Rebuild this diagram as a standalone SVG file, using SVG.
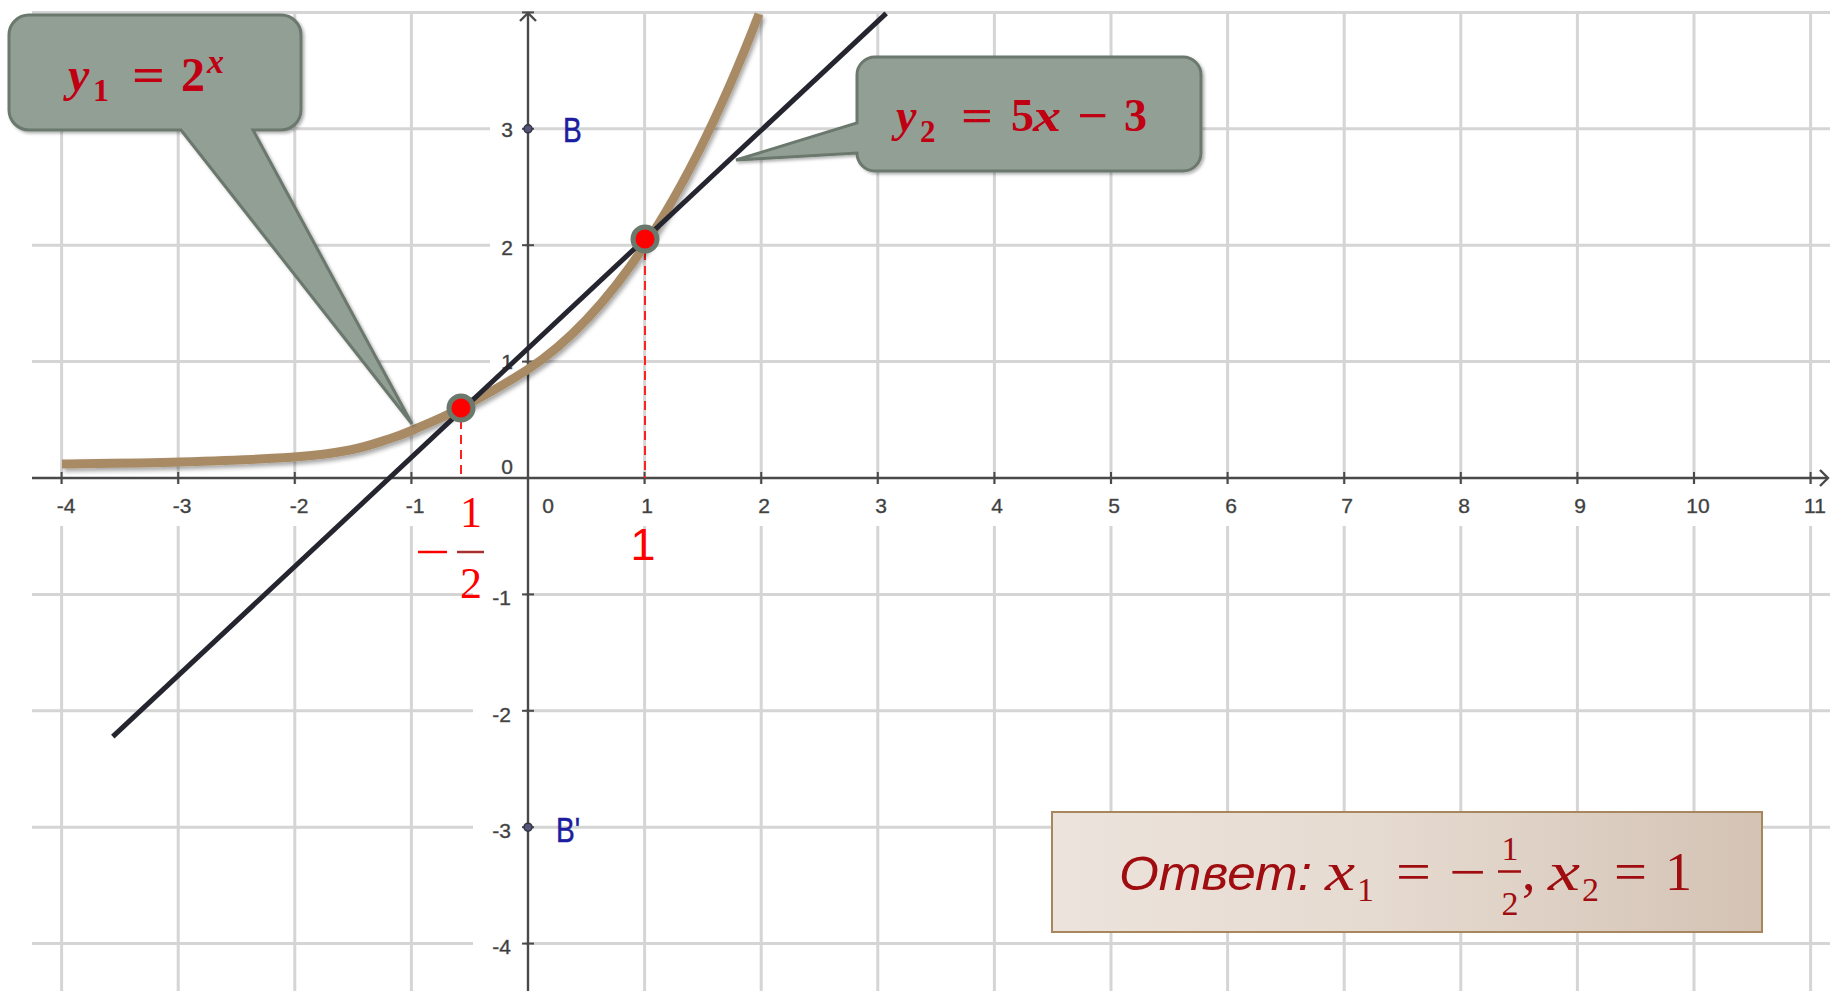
<svg xmlns="http://www.w3.org/2000/svg" width="1830" height="991" viewBox="0 0 1830 991">
<style>
.grid{stroke:#d5d5d5;stroke-width:3;fill:none}
.axis{stroke:#4a4a4a;stroke-width:2.4;fill:none}
.tick{stroke:#4a4a4a;stroke-width:2}
.lbl{font-family:"Liberation Sans",Arial,sans-serif;font-size:21px;fill:#3a3a3a;stroke:#5a5a5a;stroke-width:0.4}
.bg{fill:#ffffff}
.pt{fill:#ff0000;stroke:#6b786c;stroke-width:5}
.dash{stroke:#ff2020;stroke-width:2;stroke-dasharray:9 6;fill:none}
.call{fill:#929f94;stroke:#6b786d;stroke-width:3}
.ct{font-family:"Liberation Serif","Times New Roman",serif;font-weight:bold;fill:#c00012}
.it{font-style:italic}
.ans{font-family:"Liberation Serif","Times New Roman",serif;fill:#a00d10}
.red{font-family:"Liberation Sans",Arial,sans-serif;fill:#ff0000}
.redm{font-family:"Liberation Serif","Times New Roman",serif;fill:#ff0000}
.bl{font-family:"Liberation Sans",Arial,sans-serif;font-size:36px;fill:#1c1ca0;stroke:#1c1ca0;stroke-width:0.5}
</style>
<defs>
<filter id="sh" x="-10%" y="-10%" width="125%" height="125%">
<feDropShadow dx="2" dy="3" stdDeviation="2" flood-color="#000" flood-opacity="0.35"/>
</filter>
<filter id="sh2" x="-10%" y="-10%" width="125%" height="125%">
<feDropShadow dx="2" dy="2" stdDeviation="1.5" flood-color="#000" flood-opacity="0.3"/>
</filter>
<linearGradient id="ansg" x1="0" y1="0" x2="1" y2="0">
<stop offset="0" stop-color="#ece3dc"/>
<stop offset="0.45" stop-color="#e6dbd1"/>
<stop offset="1" stop-color="#d4c3b5"/>
</linearGradient>
</defs>
<rect width="1830" height="991" fill="#ffffff"/>

<g id="grid">
<line class="grid" x1="61.6" y1="12" x2="61.6" y2="991"/>
<line class="grid" x1="178.2" y1="12" x2="178.2" y2="991"/>
<line class="grid" x1="294.8" y1="12" x2="294.8" y2="991"/>
<line class="grid" x1="411.4" y1="12" x2="411.4" y2="991"/>
<line class="grid" x1="644.6" y1="12" x2="644.6" y2="991"/>
<line class="grid" x1="761.2" y1="12" x2="761.2" y2="991"/>
<line class="grid" x1="877.8" y1="12" x2="877.8" y2="991"/>
<line class="grid" x1="994.4" y1="12" x2="994.4" y2="991"/>
<line class="grid" x1="1111" y1="12" x2="1111" y2="991"/>
<line class="grid" x1="1227.6" y1="12" x2="1227.6" y2="991"/>
<line class="grid" x1="1344.2" y1="12" x2="1344.2" y2="991"/>
<line class="grid" x1="1460.8" y1="12" x2="1460.8" y2="991"/>
<line class="grid" x1="1577.4" y1="12" x2="1577.4" y2="991"/>
<line class="grid" x1="1694" y1="12" x2="1694" y2="991"/>
<line class="grid" x1="1810.6" y1="12" x2="1810.6" y2="991"/>
<line class="grid" x1="32" y1="12.4" x2="1830" y2="12.4"/>
<line class="grid" x1="32" y1="128.8" x2="1830" y2="128.8"/>
<line class="grid" x1="32" y1="245.2" x2="1830" y2="245.2"/>
<line class="grid" x1="32" y1="361.6" x2="1830" y2="361.6"/>
<line class="grid" x1="32" y1="594.4" x2="1830" y2="594.4"/>
<line class="grid" x1="32" y1="710.8" x2="1830" y2="710.8"/>
<line class="grid" x1="32" y1="827.2" x2="1830" y2="827.2"/>
<line class="grid" x1="32" y1="943.6" x2="1830" y2="943.6"/>
</g>

<g id="label-backgrounds">
<rect class="bg" x="46" y="484" width="40" height="42"/>
<rect class="bg" x="163" y="484" width="40" height="42"/>
<rect class="bg" x="279" y="484" width="40" height="42"/>
<rect class="bg" x="396" y="484" width="38" height="42"/>
<rect class="bg" x="636" y="484" width="22" height="42"/>
<rect class="bg" x="753" y="484" width="22" height="42"/>
<rect class="bg" x="870" y="484" width="22" height="42"/>
<rect class="bg" x="986" y="484" width="22" height="42"/>
<rect class="bg" x="1103" y="484" width="22" height="42"/>
<rect class="bg" x="1220" y="484" width="22" height="42"/>
<rect class="bg" x="1336" y="484" width="22" height="42"/>
<rect class="bg" x="1453" y="484" width="22" height="42"/>
<rect class="bg" x="1569" y="484" width="22" height="42"/>
<rect class="bg" x="1682" y="484" width="32" height="42"/>
<rect class="bg" x="1799" y="484" width="31" height="42"/>
<rect class="bg" x="490" y="117" width="35" height="24"/>
<rect class="bg" x="490" y="233" width="35" height="24"/>
<rect class="bg" x="490" y="350" width="35" height="24"/>
<rect class="bg" x="473" y="583" width="52" height="24"/>
<rect class="bg" x="473" y="699" width="52" height="24"/>
<rect class="bg" x="473" y="815" width="52" height="24"/>
<rect class="bg" x="473" y="932" width="52" height="24"/>
</g>

<g id="axes">
<line class="axis" x1="32" y1="478" x2="1828" y2="478"/>
<path class="axis" d="M1820,470 L1828,478 L1820,486"/>
<line class="axis" x1="528" y1="991" x2="528" y2="13"/>
<path class="axis" d="M520,21 L528,13 L536,21"/>
<g id="ticks">
<line class="tick" x1="61.6" y1="472" x2="61.6" y2="484"/>
<line class="tick" x1="178.2" y1="472" x2="178.2" y2="484"/>
<line class="tick" x1="294.8" y1="472" x2="294.8" y2="484"/>
<line class="tick" x1="411.4" y1="472" x2="411.4" y2="484"/>
<line class="tick" x1="644.6" y1="472" x2="644.6" y2="484"/>
<line class="tick" x1="761.2" y1="472" x2="761.2" y2="484"/>
<line class="tick" x1="877.8" y1="472" x2="877.8" y2="484"/>
<line class="tick" x1="994.4" y1="472" x2="994.4" y2="484"/>
<line class="tick" x1="1111" y1="472" x2="1111" y2="484"/>
<line class="tick" x1="1227.6" y1="472" x2="1227.6" y2="484"/>
<line class="tick" x1="1344.2" y1="472" x2="1344.2" y2="484"/>
<line class="tick" x1="1460.8" y1="472" x2="1460.8" y2="484"/>
<line class="tick" x1="1577.4" y1="472" x2="1577.4" y2="484"/>
<line class="tick" x1="1694" y1="472" x2="1694" y2="484"/>
<line class="tick" x1="1810.6" y1="472" x2="1810.6" y2="484"/>
<line class="tick" x1="522" y1="12.4" x2="534" y2="12.4"/>
<line class="tick" x1="522" y1="128.8" x2="534" y2="128.8"/>
<line class="tick" x1="522" y1="245.2" x2="534" y2="245.2"/>
<line class="tick" x1="522" y1="361.6" x2="534" y2="361.6"/>
<line class="tick" x1="522" y1="594.4" x2="534" y2="594.4"/>
<line class="tick" x1="522" y1="710.8" x2="534" y2="710.8"/>
<line class="tick" x1="522" y1="827.2" x2="534" y2="827.2"/>
<line class="tick" x1="522" y1="943.6" x2="534" y2="943.6"/>
</g>
</g>

<g id="axis-labels" class="lbl">
<text x="66" y="513" text-anchor="middle">-4</text>
<text x="182" y="513" text-anchor="middle">-3</text>
<text x="299" y="513" text-anchor="middle">-2</text>
<text x="415" y="513" text-anchor="middle">-1</text>
<text x="548" y="513" text-anchor="middle">0</text>
<text x="647" y="513" text-anchor="middle">1</text>
<text x="764" y="513" text-anchor="middle">2</text>
<text x="881" y="513" text-anchor="middle">3</text>
<text x="997" y="513" text-anchor="middle">4</text>
<text x="1114" y="513" text-anchor="middle">5</text>
<text x="1231" y="513" text-anchor="middle">6</text>
<text x="1347" y="513" text-anchor="middle">7</text>
<text x="1464" y="513" text-anchor="middle">8</text>
<text x="1580" y="513" text-anchor="middle">9</text>
<text x="1698" y="513" text-anchor="middle">10</text>
<text x="1815" y="513" text-anchor="middle">11</text>
<text x="513" y="137" text-anchor="end">3</text>
<text x="513" y="255" text-anchor="end">2</text>
<text x="513" y="369" text-anchor="end">1</text>
<text x="513" y="474" text-anchor="end">0</text>
<text x="511" y="605" text-anchor="end">-1</text>
<text x="511" y="722" text-anchor="end">-2</text>
<text x="511" y="838" text-anchor="end">-3</text>
<text x="511" y="954" text-anchor="end">-4</text>
</g>

<g id="point-B">
<circle cx="528" cy="128.8" r="4" fill="#55557a" stroke="#333344" stroke-width="1.5"/>
<text class="bl" transform="translate(563,142) scale(0.78,1)">B</text>
</g>
<g id="point-B-prime">
<circle cx="528" cy="827.2" r="4" fill="#55557a" stroke="#333344" stroke-width="1.5"/>
<text class="bl" transform="translate(556,842) scale(0.78,1)">B'</text>
</g>

<g id="connectors">
<line class="dash" x1="461" y1="420" x2="461" y2="478"/>
<line class="dash" x1="645" y1="251" x2="645" y2="478"/>
<path id="curve-y1" d="M62,464 C81.7,463.7 141.3,463.2 180,462 C218.7,460.8 265.7,459 294,457 C322.3,455 334.2,453 350,450 C365.8,447 378.5,442.3 389,439 C399.5,435.7 401,435.2 413,430 C425,424.8 442,418 461,408 C480,398 502,386 527,370 C627,305 704,157 759,14" fill="none" stroke="#a88b65" stroke-width="9" filter="url(#sh)"/>
<line id="line-y2" x1="112.8" y1="736.7" x2="886.2" y2="13.3" stroke="#25252f" stroke-width="5"/>
</g>

<g id="callout-y1">
<path class="call" filter="url(#sh2)" d="M29,15 H281 A20,20 0 0 1 301,35 V110 A20,20 0 0 1 281,130 H253 L412,424 L181,130 H29 A20,20 0 0 1 9,110 V35 A20,20 0 0 1 29,15 Z"/>
<g class="ct">
<text class="it" x="68" y="91" font-size="48">y</text>
<text x="93" y="101" font-size="32">1</text>
<text x="132" y="91" font-size="48" textLength="33" lengthAdjust="spacingAndGlyphs">=</text>
<text x="181" y="91" font-size="48">2</text>
<text class="it" x="207" y="73" font-size="34">x</text>
</g>
</g>

<g id="callout-y2">
<path class="call" filter="url(#sh2)" d="M875,57 H1183 A18,18 0 0 1 1201,75 V153 A18,18 0 0 1 1183,171 H875 A18,18 0 0 1 857,153 L736,160 L857,123 V75 A18,18 0 0 1 875,57 Z"/>
<g class="ct">
<text class="it" x="896" y="131" font-size="46">y</text>
<text x="920" y="142" font-size="31">2</text>
<text x="961" y="131" font-size="46" textLength="32" lengthAdjust="spacingAndGlyphs">=</text>
<text x="1011" y="131" font-size="46">5</text>
<text class="it" x="1033" y="131" font-size="46" textLength="28" lengthAdjust="spacingAndGlyphs">x</text>
<text x="1077" y="131" font-size="46" textLength="31" lengthAdjust="spacingAndGlyphs">−</text>
<text x="1124" y="131" font-size="46">3</text>
</g>
</g>

<g id="points">
<circle class="pt" cx="461" cy="408" r="12"/>
<circle class="pt" cx="645" cy="239" r="12"/>
</g>

<g id="root-labels">
<line x1="418" y1="552" x2="447" y2="552" stroke="#ff0000" stroke-width="2.5"/>
<line x1="457" y1="552" x2="484" y2="552" stroke="#a83030" stroke-width="2.5"/>
<text class="redm" x="471" y="527" font-size="44" text-anchor="middle">1</text>
<text class="redm" x="471" y="598" font-size="44" text-anchor="middle">2</text>
<text class="red" x="643" y="560" font-size="45" text-anchor="middle">1</text>
</g>

<g id="answer">
<rect x="1052" y="812" width="710" height="120" fill="url(#ansg)" stroke="#a8875f" stroke-width="2"/>
<text x="1119" y="890" font-family="Liberation Sans, Arial, sans-serif" font-style="italic" font-size="48" fill="#a00d10" textLength="193" lengthAdjust="spacingAndGlyphs">Ответ:</text>
<g class="ans">
<text class="it" x="1325" y="890" font-size="54" textLength="30" lengthAdjust="spacingAndGlyphs">x</text>
<text x="1357" y="901" font-size="34">1</text>
<text x="1396" y="890" font-size="54" textLength="35" lengthAdjust="spacingAndGlyphs">=</text>
<text x="1449" y="890" font-size="54" textLength="37" lengthAdjust="spacingAndGlyphs">−</text>
<text x="1510" y="860" font-size="34" text-anchor="middle">1</text>
<text x="1510" y="915" font-size="34" text-anchor="middle">2</text>
<text x="1522" y="890" font-size="54">,</text>
<text class="it" x="1548" y="890" font-size="54" textLength="32" lengthAdjust="spacingAndGlyphs">x</text>
<text x="1582" y="901" font-size="34">2</text>
<text x="1614" y="890" font-size="54" textLength="33" lengthAdjust="spacingAndGlyphs">=</text>
<text x="1665" y="890" font-size="54">1</text>
</g>
<line x1="1498" y1="871.5" x2="1521" y2="871.5" stroke="#a00d10" stroke-width="2.5"/>
</g>
</svg>
